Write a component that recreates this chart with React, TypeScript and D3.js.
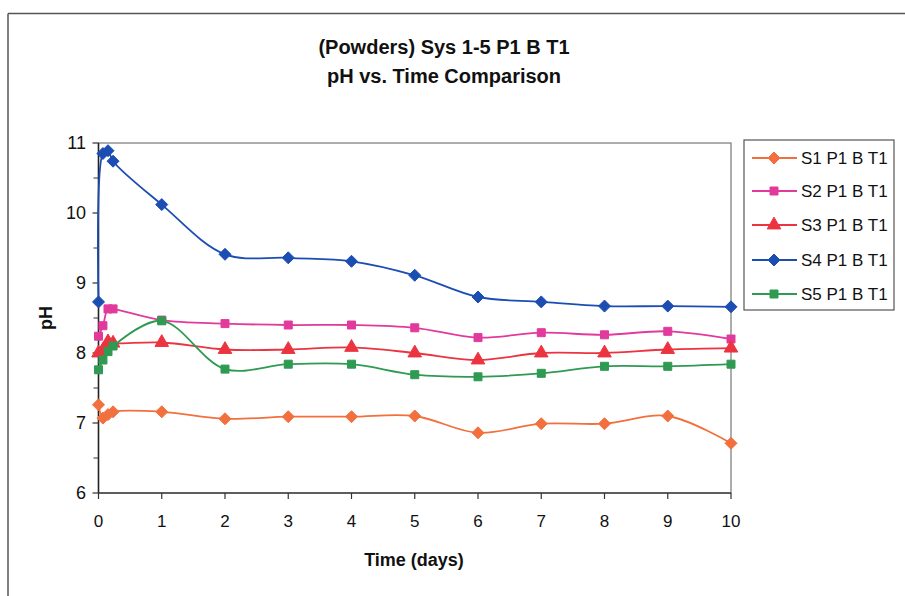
import React from "react";
import * as d3 from "d3";

const times = [0, 0.07, 0.15, 0.23, 1, 2, 3, 4, 5, 6, 7, 8, 9, 10];
const s1 = [7.26, 7.07, 7.12, 7.16, 7.16, 7.06, 7.09, 7.09, 7.1, 6.86, 6.99, 6.99, 7.1, 6.71];
const s2 = [8.24, 8.39, 8.63, 8.63, 8.47, 8.42, 8.4, 8.4, 8.36, 8.22, 8.29, 8.26, 8.31, 8.2];
const s3 = [8.0, 8.04, 8.16, 8.14, 8.15, 8.05, 8.05, 8.08, 8.0, 7.9, 8.0, 8.0, 8.05, 8.07];
const s4 = [8.73, 10.85, 10.89, 10.74, 10.12, 9.41, 9.36, 9.31, 9.11, 8.8, 8.73, 8.67, 8.67, 8.66];
const s5 = [7.76, 7.9, 8.02, 8.1, 8.46, 7.77, 7.84, 7.84, 7.69, 7.66, 7.71, 7.81, 7.81, 7.84];

const seriesNames = ["S1 P1 B T1", "S2 P1 B T1", "S3 P1 B T1", "S4 P1 B T1", "S5 P1 B T1"];
const seriesValues = [s1, s2, s3, s4, s5];
const seriesColors = ["#f2703e", "#e23a9c", "#ec3440", "#1c4db3", "#2f9a52"];
const seriesMarkers = ["diamond", "square", "triangle", "diamond", "square"];

const xTicks = [0, 1, 2, 3, 4, 5, 6, 7, 8, 9, 10];
const yTicks = [6, 7, 8, 9, 10, 11];
const yMinorTicks = [6.5, 7.5, 8.5, 9.5, 10.5];

const title1 = "(Powders) Sys 1-5 P1 B T1";
const title2 = "pH vs. Time Comparison";
const xTitle = "Time (days)";
const yTitle = "pH";

const FONT = "'Liberation Sans', Arial, sans-serif";

function Marker({ type, x, y, color }: { type: string; x: number; y: number; color: string }) {
  let p: string;
  if (type === "diamond") {
    const r = 6;
    p = `M0,${-r}L${r},0L0,${r}L${-r},0Z`;
  } else if (type === "square") {
    p = d3.symbol().type(d3.symbolSquare).size(64)() as string;
  } else {
    p = d3.symbol().type(d3.symbolTriangle).size(80)() as string;
  }
  return <path d={p} transform={`translate(${x},${y})`} fill={color} stroke={color} strokeWidth={1} />;
}

export default function App() {
  const W = 905;
  const H = 596;
  const left = 98.5;
  const right = 731;
  const top = 143;
  const bottom = 493;
  const x = d3.scaleLinear().domain([0, 10]).range([left, right]);
  const y = d3.scaleLinear().domain([6, 11]).range([bottom, top]);

  const line = d3
    .line<number>()
    .x((_, i) => x(times[i]))
    .y((d) => y(d))
    .curve(d3.curveCatmullRom.alpha(0.5));

  const legX = 744;
  const legY = 140;
  const legRows = [158, 191, 225, 260, 294];

  return (
    <svg width={W} height={H} style={{ position: "absolute", left: 0, top: 0, background: "#fff" }}>
      <rect x={0} y={0} width={W} height={H} fill="#fff" />
      {/* outer chart border (top & left visible) */}
      <line x1={8} y1={13.5} x2={W} y2={13.5} stroke="#555" strokeWidth={1.5} />
      <line x1={8} y1={13.5} x2={8} y2={H} stroke="#555" strokeWidth={1.5} />

      {/* titles */}
      <text x={444} y={54} textAnchor="middle" fontFamily={FONT} fontWeight="bold" fontSize={20} fill="#111">
        {title1}
      </text>
      <text x={444} y={83} textAnchor="middle" fontFamily={FONT} fontWeight="bold" fontSize={20} fill="#111">
        {title2}
      </text>

      {/* plot area border */}
      <rect x={left} y={top} width={right - left} height={bottom - top} fill="none" stroke="#777" strokeWidth={1.2} />
      {/* axes */}
      <line x1={left} y1={top} x2={left} y2={bottom} stroke="#222" strokeWidth={1.5} />
      <line x1={left} y1={bottom} x2={right} y2={bottom} stroke="#444" strokeWidth={1.5} />

      {xTicks.map((t) => (
        <g key={"xt" + t}>
          <line x1={x(t)} x2={x(t)} y1={bottom} y2={bottom + 6} stroke="#333" strokeWidth={1.2} />
          <text x={x(t)} y={527} textAnchor="middle" fontFamily={FONT} fontSize={17} fill="#111">
            {t}
          </text>
        </g>
      ))}
      {yTicks.map((t) => (
        <g key={"yt" + t}>
          <line x1={left - 6} x2={left} y1={y(t)} y2={y(t)} stroke="#333" strokeWidth={1.2} />
          <text x={86} y={y(t) + 6} textAnchor="end" fontFamily={FONT} fontSize={18} fill="#111">
            {t}
          </text>
        </g>
      ))}
      {yMinorTicks.map((t) => (
        <line key={"ym" + t} x1={left - 5} x2={left} y1={y(t)} y2={y(t)} stroke="#333" strokeWidth={1} />
      ))}

      <text x={414} y={566} textAnchor="middle" fontFamily={FONT} fontWeight="bold" fontSize={18} fill="#111">
        {xTitle}
      </text>
      <text
        transform={`translate(52,318) rotate(-90)`}
        textAnchor="middle"
        fontFamily={FONT}
        fontWeight="bold"
        fontSize={18}
        fill="#111"
      >
        {yTitle}
      </text>

      {/* series */}
      {seriesValues.map((vals, si) => (
        <g key={"s" + si}>
          <path d={line(vals) as string} fill="none" stroke={seriesColors[si]} strokeWidth={1.8} />
          {vals.map((v, i) => (
            <Marker key={i} type={seriesMarkers[si]} x={x(times[i])} y={y(v)} color={seriesColors[si]} />
          ))}
        </g>
      ))}

      {/* legend */}
      <rect x={legX} y={legY} width={150} height={170} fill="#fff" stroke="#555" strokeWidth={1.2} />
      {seriesNames.map((name, i) => (
        <g key={"l" + i}>
          <line x1={752} x2={797} y1={legRows[i]} y2={legRows[i]} stroke={seriesColors[i]} strokeWidth={1.8} />
          <Marker type={seriesMarkers[i]} x={774} y={legRows[i]} color={seriesColors[i]} />
          <text x={801} y={legRows[i] + 6} fontFamily={FONT} fontSize={17} fill="#111">
            {name}
          </text>
        </g>
      ))}
    </svg>
  );
}
